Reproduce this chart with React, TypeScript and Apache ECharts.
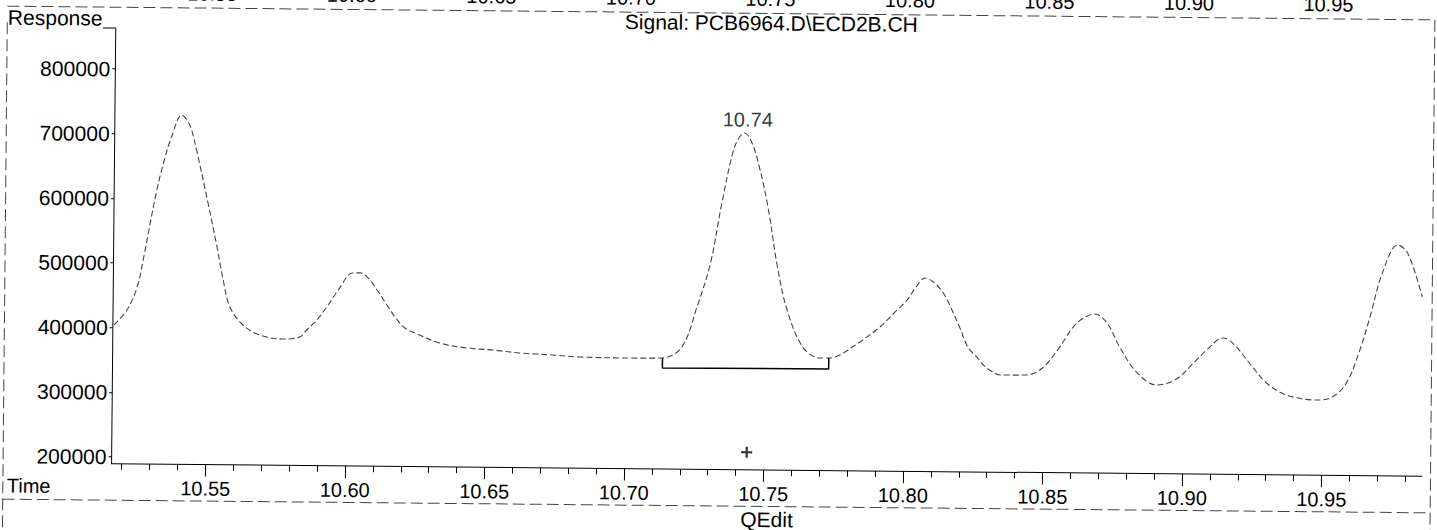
import React, { useEffect, useRef } from "react";
import * as echarts from "echarts";

// Retention time (min) and detector response
const times = [
  10.5167, 10.5213, 10.5249, 10.5271, 10.5314, 10.5342, 10.5367, 10.5403, 10.5432, 10.5457,
  10.55, 10.5536, 10.5557, 10.5582, 10.5629, 10.569, 10.5772, 10.5833, 10.5858, 10.5894,
  10.5934, 10.597, 10.602, 10.6048, 10.6077, 10.6109, 10.6145, 10.6174, 10.621, 10.6263,
  10.6335, 10.6432, 10.6525, 10.6622, 10.674, 10.6837, 10.7016, 10.7134, 10.7203, 10.7256,
  10.7303, 10.7339, 10.7375, 10.7396, 10.7421, 10.7446, 10.7471, 10.7507, 10.7543, 10.7579,
  10.7636, 10.7697, 10.7733, 10.7769, 10.7815, 10.7851, 10.7912, 10.7973, 10.8009, 10.8038,
  10.8073, 10.8102, 10.8138, 10.817, 10.8199, 10.8228, 10.826, 10.8296, 10.8349, 10.8439,
  10.8496, 10.855, 10.8618, 10.8683, 10.8726, 10.8772, 10.8833, 10.8905, 10.8977, 10.9041,
  10.9084, 10.9142, 10.9177, 10.9249, 10.9299, 10.9371, 10.9479, 10.9536, 10.9586, 10.9633,
  10.9668, 10.9711, 10.9765, 10.9801, 10.9855,
];
const responses = [
  403700, 427100, 462900, 507900, 608700, 659800, 695500, 729700, 714300, 675800,
  594000, 521400, 475000, 433300, 405700, 390400, 384600, 388000, 398900, 414500,
  437900, 461200, 487800, 488000, 480200, 461800, 438800, 420300, 403400, 392800,
  380700, 373500, 370700, 366500, 363900, 361200, 360300, 360900, 378100, 440300,
  508500, 595400, 672800, 699300, 710200, 696400, 664000, 596100, 503400, 437000,
  380000, 363200, 363300, 368200, 380700, 391700, 412000, 438600, 454200, 473000,
  488600, 482500, 465700, 439400, 411700, 382400, 367100, 350300, 339600, 340000,
  351000, 379200, 421100, 435300, 421600, 384800, 346200, 326400, 336000, 362600,
  381300, 400100, 392500, 355600, 331200, 313000, 305500, 310500, 332300, 383600,
  434700, 503100, 546600, 534400, 466500,
];

// Integration baseline of the labelled peak
const baselineTimes = [10.7134, 10.7134, 10.773, 10.773];
const baselineValues = [360900, 345400, 346400, 363300];

// Labelled peak
const peakTimes = [10.7421];
const peakHeights = [710200];
const peakLabels = ["10.74"];

// "+" cursor marker
const markerTimes = [10.7439];
const markerValues = [216300];

// Axis ticks and labels
const xMajorTicks = [10.55, 10.6, 10.65, 10.7, 10.75, 10.8, 10.85, 10.9, 10.95];
const xMinorTicks = [
  10.52, 10.53, 10.54, 10.55, 10.56, 10.57, 10.58, 10.59, 10.6, 10.61, 10.62, 10.63,
  10.64, 10.65, 10.66, 10.67, 10.68, 10.69, 10.7, 10.71, 10.72, 10.73, 10.74, 10.75,
  10.76, 10.77, 10.78, 10.79, 10.8, 10.81, 10.82, 10.83, 10.84, 10.85, 10.86, 10.87,
  10.88, 10.89, 10.9, 10.91, 10.92, 10.93, 10.94, 10.95, 10.96, 10.97, 10.98,
];
const topAxisTicks = [10.5, 10.55, 10.6, 10.65, 10.7, 10.75, 10.8, 10.85, 10.9, 10.95];
const yTicks = [200000, 300000, 400000, 500000, 600000, 700000, 800000];

const signalTitle = "Signal: PCB6964.D\\ECD2B.CH";
const yAxisName = "Response";
const xAxisName = "Time";
const footerText = "QEdit";

const FONT = "'Liberation Sans', Arial, Helvetica, sans-serif";
const PAD = 20;
const W = 1437 + 2 * PAD;
const H = 530 + 2 * PAD;

export default function App() {
  const ref = useRef<HTMLDivElement>(null);

  useEffect(() => {
    if (!ref.current) return;
    const chart = echarts.init(ref.current, null, { renderer: "svg" });
    const frameStyle = { stroke: "#444", lineWidth: 1, lineDash: [12, 5] };
    const option: any = {
      animation: false,
      backgroundColor: "#ffffff",
      textStyle: { fontFamily: FONT },
      grid: [
        { left: 133.4, right: 33, top: 53.8, bottom: 80.5, containLabel: false, outerBoundsMode: "none" },
        { left: 20, right: 20, top: 0, height: 1, containLabel: false, outerBoundsMode: "none" },
      ],
      xAxis: [
        {
          type: "value",
          gridIndex: 0,
          min: 10.5163,
          max: 10.986,
          position: "bottom",
          axisLine: { show: true, onZero: false, lineStyle: { color: "#000", width: 1 } },
          axisTick: { show: true, customValues: xMajorTicks, length: 12, lineStyle: { color: "#000", width: 1 } },
          axisLabel: {
            show: true,
            customValues: xMajorTicks,
            formatter: (v: number) => v.toFixed(2),
            margin: 14,
            color: "#000",
            fontSize: 20,
            fontFamily: FONT,
          },
          splitLine: { show: false },
        },
        {
          type: "value",
          gridIndex: 0,
          min: 10.5163,
          max: 10.986,
          position: "bottom",
          axisLine: { show: false, onZero: false },
          axisTick: { show: true, customValues: xMinorTicks, length: 6, lineStyle: { color: "#000", width: 1 } },
          axisLabel: { show: false },
          splitLine: { show: false },
        },
        {
          type: "value",
          gridIndex: 1,
          min: 10.4748,
          max: 10.9898,
          position: "bottom",
          axisLine: { show: false, onZero: false },
          axisTick: { show: false },
          axisLabel: {
            show: true,
            customValues: topAxisTicks,
            formatter: (v: number) => v.toFixed(2),
            margin: 7.5,
            color: "#000",
            fontSize: 20,
            fontFamily: FONT,
          },
          splitLine: { show: false },
        },
      ],
      yAxis: [
        {
          type: "value",
          gridIndex: 0,
          min: 189170,
          max: 863300,
          axisLine: { show: true, onZero: false, lineStyle: { color: "#000", width: 1 } },
          axisTick: { show: true, customValues: yTicks, length: 3, lineStyle: { color: "#000" } },
          axisLabel: {
            show: true,
            customValues: yTicks,
            formatter: (v: number) => String(Math.round(v)),
            margin: 5,
            color: "#000",
            fontSize: 21,
            fontFamily: FONT,
          },
          splitLine: { show: false },
        },
        { type: "value", gridIndex: 1, min: 0, max: 1, show: false },
      ],
      series: [
        {
          type: "line",
          xAxisIndex: 0,
          yAxisIndex: 0,
          data: times.map((t, i) => [t, responses[i]]),
          smooth: 0.35,
          symbol: "none",
          lineStyle: { color: "#444", width: 1.1, type: [6, 3] },
          z: 3,
        },
        {
          type: "line",
          xAxisIndex: 0,
          yAxisIndex: 0,
          data: baselineTimes.map((t, i) => [t, baselineValues[i]]),
          symbol: "none",
          smooth: false,
          lineStyle: { color: "#000", width: 1.5 },
          z: 4,
        },
        {
          type: "scatter",
          xAxisIndex: 0,
          yAxisIndex: 0,
          data: peakTimes.map((t, i) => ({ value: [t, peakHeights[i]], name: peakLabels[i] })),
          symbolSize: 1,
          itemStyle: { color: "rgba(0,0,0,0)" },
          label: {
            show: true,
            position: "top",
            distance: 3,
            offset: [3, 0],
            formatter: (p: any) => p.name,
            color: "#000",
            fontSize: 20,
            fontFamily: FONT,
          },
          z: 5,
        },
        {
          type: "scatter",
          xAxisIndex: 0,
          yAxisIndex: 0,
          data: markerTimes.map((t, i) => [t, markerValues[i]]),
          symbol: "path://M4,0H6V4H10V6H6V10H4V6H0V4H4Z",
          symbolSize: 11,
          itemStyle: { color: "#000" },
          z: 5,
        },
      ],
      graphic: [
        { type: "text", x: 25.6, y: 44, style: { text: yAxisName, fill: "#000", fontSize: 21, fontFamily: FONT, textAlign: "left", textVerticalAlign: "middle" } },
        { type: "text", x: 789, y: 42.5, style: { text: signalTitle, fill: "#000", fontSize: 21, fontFamily: FONT, textAlign: "center", textVerticalAlign: "middle" } },
        { type: "text", x: 29, y: 512.3, style: { text: xAxisName, fill: "#000", fontSize: 20, fontFamily: FONT, textAlign: "left", textVerticalAlign: "middle" } },
        { type: "text", x: 789, y: 539, style: { text: footerText, fill: "#000", fontSize: 21, fontFamily: FONT, textAlign: "center", textVerticalAlign: "middle" } },
        { type: "line", shape: { x1: 25, y1: 33, x2: 1452.5, y2: 33 }, style: frameStyle },
        { type: "line", shape: { x1: 25, y1: 526, x2: 1452.5, y2: 526 }, style: frameStyle },
        { type: "line", shape: { x1: 25, y1: 49, x2: 25, y2: 570 }, style: frameStyle },
        { type: "line", shape: { x1: 1452.5, y1: 33, x2: 1452.5, y2: 570 }, style: frameStyle },
        { type: "line", shape: { x1: 120.7, y1: 53.8, x2: 133.4, y2: 53.8 }, style: { stroke: "#000", lineWidth: 1 } },
      ],
    };
    chart.setOption(option);
    return () => chart.dispose();
  }, []);

  return (
    <div style={{ position: "fixed", left: 0, top: 0, width: 1437, height: 530, overflow: "hidden", background: "#fff" }}>
      <div
        style={{
          position: "absolute",
          left: -PAD,
          top: -PAD,
          width: W,
          height: H,
          transform: "rotate(0.55deg)",
          transformOrigin: `${PAD + 718.5}px ${PAD + 265}px`,
        }}
      >
        <div ref={ref} style={{ width: W, height: H }} />
      </div>
    </div>
  );
}
